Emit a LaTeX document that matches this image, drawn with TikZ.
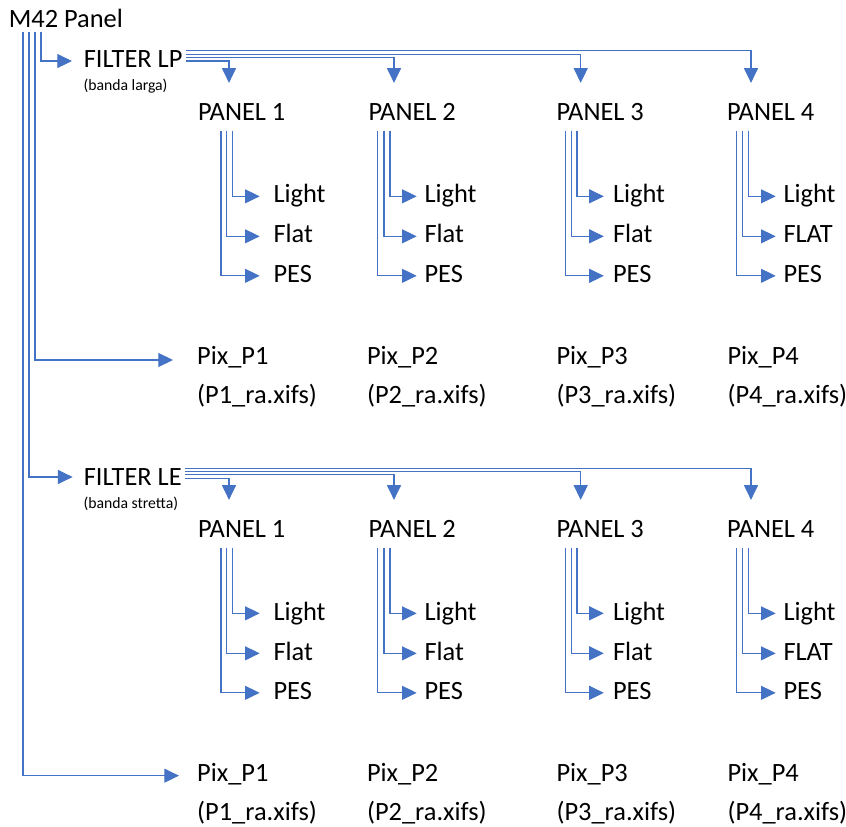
\documentclass[tikz,border=0pt]{standalone}
\usepackage{fontspec}
\setmainfont{Carlito}
\usetikzlibrary{calc,arrows.meta}

\definecolor{linkblue}{HTML}{4472C4}
\tikzset{every picture/.style={line width=0.75pt}}
\tikzset{
  lbl/.style={anchor=base west, inner sep=0pt, text height=10pt, text depth=0pt, font=\fontsize{19.8}{23}\selectfont},
  note/.style={anchor=base west, inner sep=0pt, font=\fontsize{11.8}{13}\selectfont},
  conn/.style={draw=linkblue, line width=0.8pt, -{Triangle[length=11pt,width=10.5pt]}}
}

\begin{document}
\begin{tikzpicture}[x=0.75pt,y=0.75pt,yscale=-1,xscale=1]
        \useasboundingbox (0,0) rectangle (846,827);

        % Text Node
        \draw (8.3,27.7) node [lbl] (m42) {M42 Panel};

        %% first filter
        % Text Node
        \draw (83.3,67.7) node [lbl] (flp) {FILTER LP};
        \draw (83,90.5) node [note] (flpnote) {(banda larga)};
        % Text Node
        \draw (197.5,120.7) node [lbl] (pa1) {PANEL 1};
        \draw (368,120.7) node [lbl] (pa2) {PANEL 2};
        \draw (556,120.7) node [lbl] (pa3) {PANEL 3};
        \draw (726.5,120.7) node [lbl] (pa4) {PANEL 4};
        % Text Node
        \draw (273,203) node [lbl] (lia1) {Light};
        \draw (273,243) node [lbl] (fla1) {Flat};
        \draw (273,282.5) node [lbl] (pesa1) {PES};
        \draw (424,203) node [lbl] (lia2) {Light};
        \draw (424,243) node [lbl] (fla2) {Flat};
        \draw (424,282.5) node [lbl] (pesa2) {PES};
        \draw (612.5,203) node [lbl] (lia3) {Light};
        \draw (612.5,243) node [lbl] (fla3) {Flat};
        \draw (612.5,282.5) node [lbl] (pesa3) {PES};
        \draw (783,203) node [lbl] (lia4) {Light};
        \draw (783,243) node [lbl] (fla4) {FLAT};
        \draw (783,282.5) node [lbl] (pesa4) {PES};
        % Text Node
        \draw (196.7,364) node [lbl] (pixa1) {Pix\_P1};
        \draw (366.5,364) node [lbl] (pixa2) {Pix\_P2};
        \draw (556,364) node [lbl] (pixa3) {Pix\_P3};
        \draw (727,364) node [lbl] (pixa4) {Pix\_P4};
        \draw (196.7,403) node [lbl] (xia1) {(P1\_ra.xifs)};
        \draw (366.5,403) node [lbl] (xia2) {(P2\_ra.xifs)};
        \draw (556,403) node [lbl] (xia3) {(P3\_ra.xifs)};
        \draw (727,403) node [lbl] (xia4) {(P4\_ra.xifs)};

        %% second filter
        % Text Node
        \draw (83.3,485) node [lbl] (fle) {FILTER LE};
        \draw (83,508) node [note] (flenote) {(banda stretta)};
        % Text Node
        \draw (197.5,537.7) node [lbl] (pb1) {PANEL 1};
        \draw (368,537.7) node [lbl] (pb2) {PANEL 2};
        \draw (556,537.7) node [lbl] (pb3) {PANEL 3};
        \draw (726.5,537.7) node [lbl] (pb4) {PANEL 4};
        % Text Node
        \draw (273,620) node [lbl] (lib1) {Light};
        \draw (273,660) node [lbl] (flb1) {Flat};
        \draw (273,699.5) node [lbl] (pesb1) {PES};
        \draw (424,620) node [lbl] (lib2) {Light};
        \draw (424,660) node [lbl] (flb2) {Flat};
        \draw (424,699.5) node [lbl] (pesb2) {PES};
        \draw (612.5,620) node [lbl] (lib3) {Light};
        \draw (612.5,660) node [lbl] (flb3) {Flat};
        \draw (612.5,699.5) node [lbl] (pesb3) {PES};
        \draw (783,620) node [lbl] (lib4) {Light};
        \draw (783,660) node [lbl] (flb4) {FLAT};
        \draw (783,699.5) node [lbl] (pesb4) {PES};
        % Text Node
        \draw (196.7,781) node [lbl] (pixb1) {Pix\_P1};
        \draw (366.5,781) node [lbl] (pixb2) {Pix\_P2};
        \draw (556,781) node [lbl] (pixb3) {Pix\_P3};
        \draw (727,781) node [lbl] (pixb4) {Pix\_P4};
        \draw (196.7,820) node [lbl] (xib1) {(P1\_ra.xifs)};
        \draw (366.5,820) node [lbl] (xib2) {(P2\_ra.xifs)};
        \draw (556,820) node [lbl] (xib3) {(P3\_ra.xifs)};
        \draw (727,820) node [lbl] (xib4) {(P4\_ra.xifs)};

        %Elbow Lines from M42
        \draw [conn] ($(m42.south west)+(32.7,4.3)$) |- ([xshift=-8.5pt]flp.west);
        \draw [conn] ($(m42.south west)+(26.7,4.3)$) |- ([xshift=-17.8pt,yshift=2pt]pixa1.west);
        \draw [conn] ($(m42.south west)+(20.7,4.3)$) |- ([xshift=-8pt,yshift=-1pt]fle.west);
        \draw [conn] ($(m42.south west)+(14.7,4.3)$) |- ([xshift=-13.3pt,yshift=1pt]pixb1.west);

        %Elbow Lines from FILTER LP
        \draw [conn] ($(flp.east)+(3,0)$) -| ($(pa1.north west)+(31.5,-24)$);
        \draw [conn] ($(flp.east)+(3,-3.4)$) -| ($(pa2.north west)+(26,-24)$);
        \draw [conn] ($(flp.east)+(3,-6.8)$) -| ($(pa3.north west)+(24.7,-24)$);
        \draw [conn] ($(flp.east)+(3,-10.2)$) -| ($(pa4.north west)+(24.5,-24)$);
        %Elbow Lines from FILTER LE
        \draw [conn] ($(fle.east)+(3,0)$) -| ($(pb1.north west)+(31.5,-24)$);
        \draw [conn] ($(fle.east)+(3,-3.4)$) -| ($(pb2.north west)+(26,-24)$);
        \draw [conn] ($(fle.east)+(3,-6.8)$) -| ($(pb3.north west)+(24.7,-24)$);
        \draw [conn] ($(fle.east)+(3,-10.2)$) -| ($(pb4.north west)+(24.5,-24)$);

        %Elbow Lines under the panels
        \draw [conn] ($(pa1.south west)+(34.8,9.5)$) |- ([xshift=-10pt]lia1.west);
        \draw [conn] ($(pa1.south west)+(29.2,9.5)$) |- ([xshift=-10pt]fla1.west);
        \draw [conn] ($(pa1.south west)+(23.5,9.5)$) |- ([xshift=-10pt]pesa1.west);
        \draw [conn] ($(pa2.south west)+(22,9.5)$) |- ([xshift=-5.5pt]lia2.west);
        \draw [conn] ($(pa2.south west)+(16,9.5)$) |- ([xshift=-5.5pt]fla2.west);
        \draw [conn] ($(pa2.south west)+(9.7,9.5)$) |- ([xshift=-5.5pt]pesa2.west);
        \draw [conn] ($(pa3.south west)+(21,9.5)$) |- ([xshift=-6.5pt]lia3.west);
        \draw [conn] ($(pa3.south west)+(15.7,9.5)$) |- ([xshift=-6.5pt]fla3.west);
        \draw [conn] ($(pa3.south west)+(9.7,9.5)$) |- ([xshift=-6.5pt]pesa3.west);
        \draw [conn] ($(pa4.south west)+(22,9.5)$) |- ([xshift=-5.5pt]lia4.west);
        \draw [conn] ($(pa4.south west)+(16,9.5)$) |- ([xshift=-5.5pt]fla4.west);
        \draw [conn] ($(pa4.south west)+(9.7,9.5)$) |- ([xshift=-5.5pt]pesa4.west);

        \draw [conn] ($(pb1.south west)+(34.8,9.5)$) |- ([xshift=-10pt]lib1.west);
        \draw [conn] ($(pb1.south west)+(29.2,9.5)$) |- ([xshift=-10pt]flb1.west);
        \draw [conn] ($(pb1.south west)+(23.5,9.5)$) |- ([xshift=-10pt]pesb1.west);
        \draw [conn] ($(pb2.south west)+(22,9.5)$) |- ([xshift=-5.5pt]lib2.west);
        \draw [conn] ($(pb2.south west)+(16,9.5)$) |- ([xshift=-5.5pt]flb2.west);
        \draw [conn] ($(pb2.south west)+(9.7,9.5)$) |- ([xshift=-5.5pt]pesb2.west);
        \draw [conn] ($(pb3.south west)+(21,9.5)$) |- ([xshift=-6.5pt]lib3.west);
        \draw [conn] ($(pb3.south west)+(15.7,9.5)$) |- ([xshift=-6.5pt]flb3.west);
        \draw [conn] ($(pb3.south west)+(9.7,9.5)$) |- ([xshift=-6.5pt]pesb3.west);
        \draw [conn] ($(pb4.south west)+(22,9.5)$) |- ([xshift=-5.5pt]lib4.west);
        \draw [conn] ($(pb4.south west)+(16,9.5)$) |- ([xshift=-5.5pt]flb4.west);
        \draw [conn] ($(pb4.south west)+(9.7,9.5)$) |- ([xshift=-5.5pt]pesb4.west);

\end{tikzpicture}
\end{document}
